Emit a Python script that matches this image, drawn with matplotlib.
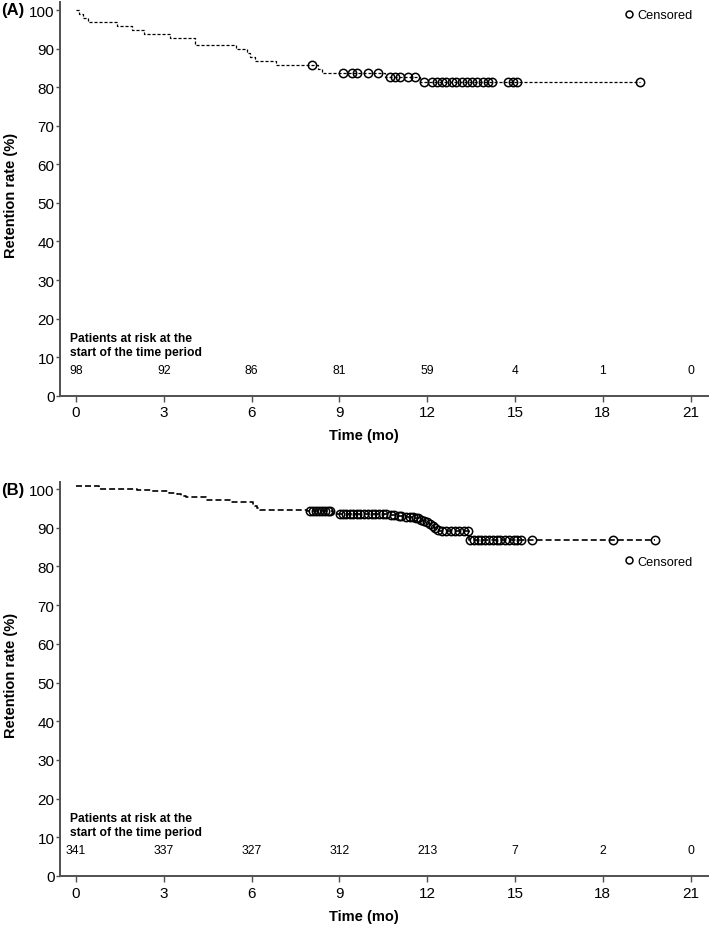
import numpy as np
import matplotlib
matplotlib.use("Agg")
import matplotlib.pyplot as plt
from matplotlib.lines import Line2D

plt.rcParams['font.family'] = ['Liberation Sans', 'DejaVu Sans']
plt.rcParams['lines.scale_dashes'] = False

# panel A: step times (mo) and retention (%)
time_a = [0, 0.11, 0.23, 0.42, 1.41, 1.93, 2.33, 3.21, 4.07, 5.46, 5.85, 5.93,
          6.12, 6.84, 8.28, 8.39, 10.56, 11.75]
surv_a = [100, 98.98, 97.96, 96.94, 95.92, 94.90, 93.88, 92.86, 90.82, 89.80,
          88.78, 87.76, 86.73, 85.71, 84.68, 83.65, 82.55, 81.37]
cens_a = [8.05, 9.13, 9.42, 9.59, 9.99, 10.33, 10.73, 10.9, 11.07, 11.35, 11.58,
          11.9, 12.15, 12.32, 12.49, 12.66, 12.84, 13.0, 13.18, 13.35, 13.52,
          13.69, 13.92, 14.08, 14.23, 14.77, 14.94, 15.08, 19.27]
risk_a = [98, 92, 86, 81, 59, 4, 1, 0]

# panel B
time_b = [0, 0.8, 2.07, 2.57, 3.18, 3.45, 3.6, 3.75, 4.45, 5.25, 6.05, 6.12,
          6.2, 6.3, 7.9, 8.78, 10.7, 10.95, 11.2, 11.35, 11.55, 11.75, 11.85,
          11.95, 12.05, 12.15, 12.25, 12.32, 12.4, 13.42]
surv_b = [100.7, 100.0, 99.7, 99.4, 98.9, 98.6, 98.3, 97.9, 97.2, 96.6, 96.0,
          95.5, 95.0, 94.65, 94.4, 93.5, 93.3, 93.1, 92.9, 92.7, 92.4, 92.1,
          91.8, 91.4, 91.0, 90.5, 90.0, 89.5, 89.1, 86.8]
cens_b = [7.99, 8.1, 8.2, 8.3, 8.4, 8.5, 8.6, 8.68,
          9.02, 9.12, 9.22, 9.35, 9.48, 9.6, 9.72, 9.85, 9.97, 10.1, 10.22,
          10.35, 10.48, 10.6,
          10.78, 10.88, 11.02, 11.12, 11.27, 11.42, 11.5, 11.62, 11.7, 11.8,
          11.9, 12.0, 12.1, 12.2, 12.28, 12.36,
          12.5, 12.65, 12.8, 12.95, 13.1, 13.25, 13.38,
          13.48, 13.6, 13.72, 13.85, 13.98, 14.1, 14.25, 14.38, 14.5, 14.65,
          14.8, 14.95, 15.08, 15.2, 15.57, 18.36, 19.78]
risk_b = [341, 337, 327, 312, 213, 7, 2, 0]

xticks = [0, 3, 6, 9, 12, 15, 18, 21]
yticks = [0, 10, 20, 30, 40, 50, 60, 70, 80, 90, 100]

W, H = 709, 928
fig = plt.figure(figsize=(W / 100, H / 100), dpi=100)
spine_col = '#505050'


def panel(rect, ylim_top, times, surv, cens, risk, dash, lw, tag, tag_y, leg_y):
    ax = fig.add_axes(rect)
    t = list(times) + [cens[-1]]
    s = list(surv) + [surv[-1]]
    ax.step(t, s, where='post', color='black', lw=lw, linestyle=dash)
    idx = np.searchsorted(times, cens, side='right') - 1
    ax.plot(cens, np.array(surv)[idx], 'o', ms=6, mfc='none', mec='black', mew=1.1)
    ax.set_xlim(-0.547, 21.63)
    ax.set_ylim(0, ylim_top)
    ax.set_xticks(xticks)
    ax.set_yticks(yticks)
    for sp in ['top', 'right']:
        ax.spines[sp].set_visible(False)
    for sp in ['left', 'bottom']:
        ax.spines[sp].set_color(spine_col)
        ax.spines[sp].set_linewidth(1.4)
    ax.tick_params(axis='x', length=4, width=1, color=spine_col, pad=3, labelsize=11)
    ax.tick_params(axis='y', length=3, width=1, color=spine_col, pad=1, labelsize=11)
    ax.set_xlabel('Time (mo)', fontweight='bold', fontsize=10.5)
    ax.xaxis.set_label_coords(0.468, -0.083)
    ax.set_ylabel('Retention rate (%)', fontweight='bold', fontsize=10.5)
    ax.yaxis.set_label_coords(-0.064, 0.51)
    ax.text(-0.2, 15.0, 'Patients at risk at the', fontweight='bold', fontsize=8.7,
            va='center', ha='left')
    ax.text(-0.2, 11.3, 'start of the time period', fontweight='bold', fontsize=8.7,
            va='center', ha='left')
    for x, r in zip(xticks, risk):
        ax.text(x, 6.7, str(r), fontsize=8.7, ha='center', va='center')
    fig.text(0.001, tag_y, tag, fontweight='bold', fontsize=12, va='center', ha='left')
    h = Line2D([], [], marker='o', ls='none', mfc='none', mec='black', mew=1.1, ms=5)
    ax.legend([h], ['Censored'], loc='center left', frameon=False, fontsize=9.2,
              handlelength=0.8, handletextpad=0.3, borderpad=0, borderaxespad=0,
              bbox_to_anchor=(623.7 / W, 1 - leg_y / H), bbox_transform=fig.transFigure)
    return ax


# panel A: spine 0 at y=396.7 px, top of axis at 3 px
panel([60 / W, 1 - 396.7 / H, 649 / W, 393.7 / H], 102.1, time_a, surv_a, cens_a,
      risk_a, (0, (2.2, 1.4)), 0.9, '(A)', 1 - 11 / H, 16)
# panel B: spine 0 at y=877 px, top at 482.7 px
panel([60 / W, 1 - 877 / H, 649 / W, 394.3 / H], 101.9, time_b, surv_b, cens_b,
      risk_b, (0, (4.3, 2.2)), 1.2, '(B)', 1 - 490 / H, 562.7)

fig.savefig('out.png', dpi=100)
